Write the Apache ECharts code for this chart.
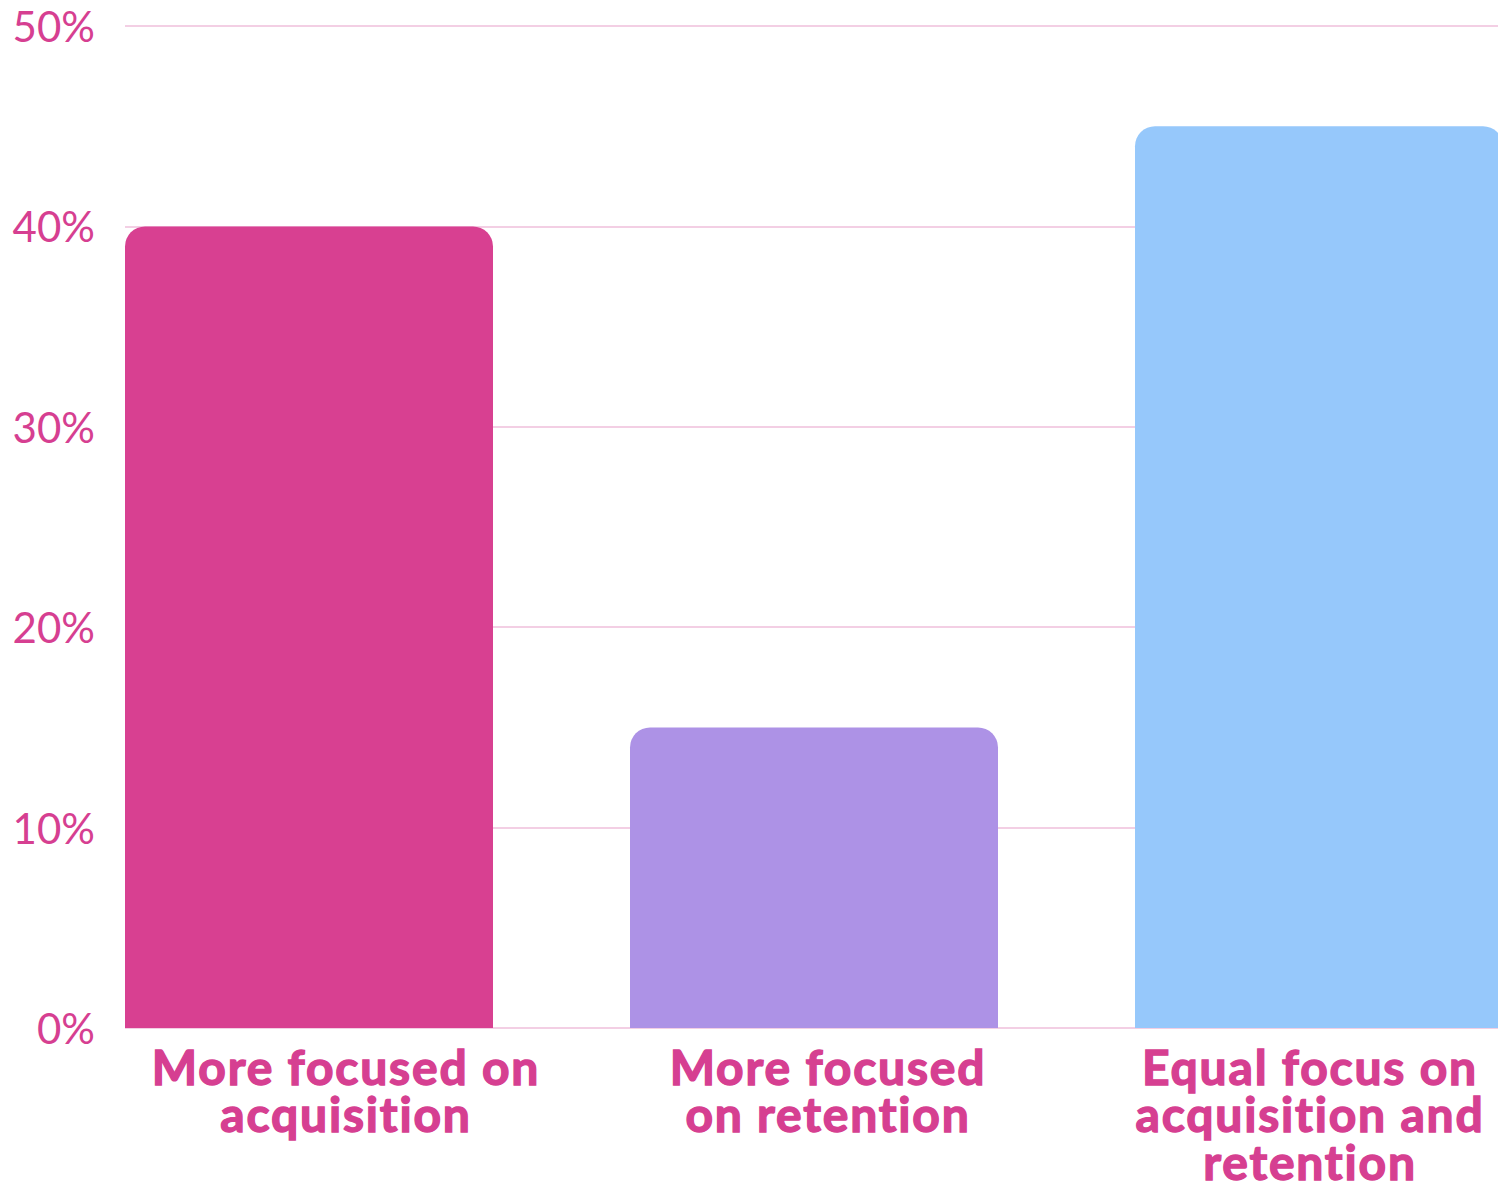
<!DOCTYPE html>
<html><head><meta charset="utf-8">
<script src="https://cdn.jsdelivr.net/npm/echarts@6/dist/echarts.min.js"></script>
<style>html,body{margin:0;padding:0;background:#fff}#c{width:1498px;height:1186px}
#c text{font-variant-ligatures:none;font-feature-settings:"liga" 0,"clig" 0;}
#c text.cat{letter-spacing:1.8px;}</style>
</head><body><div id="c"></div>
<script>
const categories = ['More focused on\nacquisition', 'More focused\non retention', 'Equal focus on\nacquisition and\nretention'];
const values = [40, 15, 45];
const barColors = ['#d84091', '#ad92e6', '#96c8fb'];
const yMin = 0, yMax = 50, yStep = 10;

const pink = '#d63f91';
const chart = echarts.init(document.getElementById('c'), null, {renderer: 'svg'});
chart.setOption({
  backgroundColor: '#ffffff',
  animation: false,
  grid: [
    {left: 125, right: 0, top: 26, bottom: 158},
    {left: 309, width: 1010, top: 26, bottom: 158},
    {left: 346, width: 964, top: 26, bottom: 158}
  ],
  xAxis: [
    {gridIndex: 0, type: 'category', data: categories, show: false},
    {gridIndex: 1, type: 'category', data: categories, boundaryGap: false, show: false},
    {gridIndex: 2, type: 'category', data: categories, boundaryGap: false,
      axisLine: {show: false}, axisTick: {show: false}, splitLine: {show: false},
      axisLabel: {show: true, interval: 0, margin: 17, color: pink, fontFamily: 'Lato', fontWeight: 'bold',
        fontSize: 48, lineHeight: 47.5, align: 'center', verticalAlign: 'top',
        textBorderColor: pink, textBorderWidth: 1.4}}
  ],
  yAxis: [
    {gridIndex: 0, type: 'value', min: yMin, max: yMax, interval: yStep,
      axisLine: {show: false}, axisTick: {show: false},
      axisLabel: {formatter: '{value}%', color: pink, fontFamily: 'Lato', fontSize: 42, margin: 30},
      splitLine: {lineStyle: {color: '#f3cfe4', width: 2}}},
    {gridIndex: 1, type: 'value', min: yMin, max: yMax, interval: yStep, show: false, splitLine: {show: false}},
    {gridIndex: 2, type: 'value', min: yMin, max: yMax, interval: yStep, show: false, splitLine: {show: false}}
  ],
  series: [{
    type: 'bar', xAxisIndex: 1, yAxisIndex: 1, barWidth: 368, clip: false,
    data: values.map((v, i) => ({value: v, itemStyle: {color: barColors[i], borderRadius: [20, 20, 0, 0]}}))
  }]
});
// mark category label text nodes for letter spacing
document.querySelectorAll('#c text').forEach(t => {
  if (t.getAttribute('font-size') === '48' || (t.style && t.style.font && t.style.font.indexOf('48px') >= 0) || /48px/.test(t.getAttribute('style') || '')) t.classList.add('cat');
});
</script></body></html>
